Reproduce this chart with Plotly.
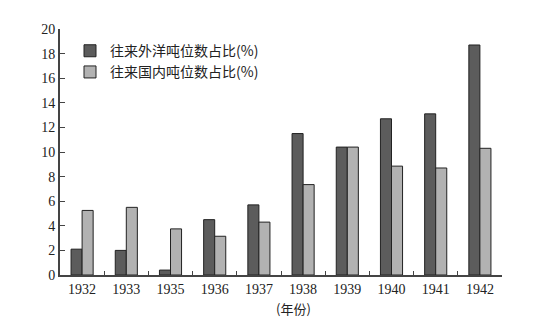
import plotly.graph_objects as go

years = ["1932", "1933", "1935", "1936", "1937", "1938", "1939", "1940", "1941", "1942"]
foreign = [2.1, 2.0, 0.4, 4.5, 5.7, 11.5, 10.4, 12.7, 13.1, 18.7]
domestic = [5.25, 5.5, 3.75, 3.15, 4.3, 7.35, 10.4, 8.85, 8.7, 10.3]
name_foreign = "往来外洋吨位数占比(%)"
name_domestic = "往来国内吨位数占比(%)"
y_ticks = [0, 2, 4, 6, 8, 10, 12, 14, 16, 18, 20]

FONT = "Liberation Serif, Noto Sans CJK SC, serif"

fig = go.Figure()
fig.add_trace(go.Bar(x=years, y=foreign, name=name_foreign,
                     marker=dict(color="#5c5c5c", line=dict(color="#222222", width=1))))
fig.add_trace(go.Bar(x=years, y=domestic, name=name_domestic,
                     marker=dict(color="#b2b2b2", line=dict(color="#222222", width=1))))

fig.update_layout(
    width=553, height=322,
    margin=dict(l=60, r=51, t=29, b=47),
    paper_bgcolor="white", plot_bgcolor="white",
    barmode="group", bargap=0.5, bargroupgap=0,
    font=dict(family=FONT, size=14, color="#222222"),
    showlegend=True,
    legend=dict(x=(70 - 60) / 442, y=0.975, xanchor="left", yanchor="top",
                font=dict(family="Noto Sans CJK SC", size=14, color="#222222"),
                bgcolor="rgba(0,0,0,0)", itemwidth=30, tracegroupgap=0),
    xaxis=dict(type="category", showline=True, linecolor="#444444", linewidth=2,
               ticks="inside", tickson="boundaries", ticklen=4, tickcolor="#444444",
               tickfont=dict(family=FONT, size=14), showgrid=False),
    yaxis=dict(range=[0, 20], tickvals=y_ticks, showline=True, linecolor="#444444",
               linewidth=2, ticks="inside", ticklen=5, tickcolor="#444444",
               tickfont=dict(family=FONT, size=14), showgrid=False, zeroline=False),
    annotations=[dict(text="(年份)", xref="paper", yref="paper",
                      x=(293 - 60) / 442, y=-(308 - 275) / 246,
                      xanchor="center", yanchor="middle",
                      showarrow=False,
                      font=dict(family="Noto Sans CJK SC", size=13, color="#222222"))],
)

fig.write_html("out.html")
